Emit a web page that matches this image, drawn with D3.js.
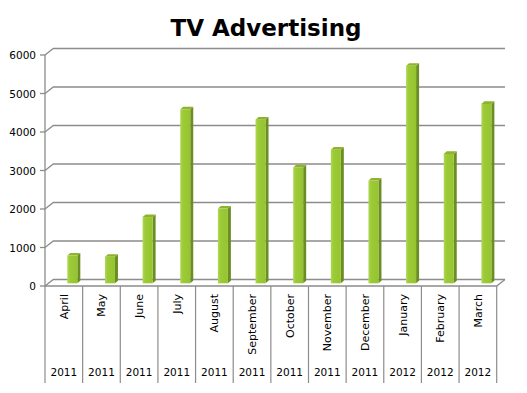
<!DOCTYPE html>
<html><head><meta charset="utf-8">
<script src="https://cdn.jsdelivr.net/npm/d3@7"></script>
<style>body{margin:0;background:#fff}svg{display:block}</style>
</head><body>
<script>
const months = ["April","May","June","July","August","September","October","November","December","January","February","March"];
const years = ["2011","2011","2011","2011","2011","2011","2011","2011","2011","2012","2012","2012"];
const values = [720,690,1720,4520,1940,4250,3010,3470,2670,5650,3360,4660];
const yTicks = [0,1000,2000,3000,4000,5000,6000];
const title = "TV Advertising";

const W = 527, H = 393;
const svg = d3.select("body").append("svg").attr("width", W).attr("height", H);
const font = "DejaVu Sans, Verdana, sans-serif";

const x0 = 45, x1 = 496.7;
const depthX = 8.3, depthY = -6.5;
const x = d3.scaleBand().domain(months.map((m,i)=>i)).range([x0, x1]).padding(0);
const yFront = d3.scaleLinear().domain([0,6000]).range([286, 55]);
const yBack = d3.scaleLinear().domain([0,6000]).range([286+depthY, 55+depthY]);
const yBar = d3.scaleLinear().domain([0,6000]).range([283.3, 283.3-(286-55)]);

const grid = "#8c8c8c";
// gridlines on back wall with slanted left part
const g = svg.append("g");
yTicks.forEach(t => {
  g.append("path")
    .attr("d", `M${x0},${yFront(t)}L${x0+depthX},${yBack(t)}L${x1+depthX},${yBack(t)}`)
    .attr("fill","none").attr("stroke", grid).attr("stroke-width", 1.3);
});
// floor front edge and right slant
g.append("path")
  .attr("d", `M${x0},${yFront(0)}L${x1},${yFront(0)}L${x1+depthX},${yBack(0)}`)
  .attr("fill","none").attr("stroke", grid).attr("stroke-width", 1.3);

// y axis
g.append("line").attr("x1",x0).attr("x2",x0).attr("y1",yFront(6000)).attr("y2",yFront(0))
  .attr("stroke","#8c8c8c").attr("stroke-width",1.3);
yTicks.forEach(t => {
  g.append("line").attr("x1",x0-5).attr("x2",x0).attr("y1",yFront(t)).attr("y2",yFront(t))
    .attr("stroke","#8c8c8c").attr("stroke-width",1.3);
  svg.append("text").attr("x", x0-9).attr("y", yFront(t)+4)
    .attr("text-anchor","end").attr("font-family",font).attr("font-size",10.5)
    .attr("fill","#000").text(t);
});

// category dividers
const bounds = months.map((m,i)=>x(i)).concat([x1]);
bounds.forEach(b => {
  g.append("line").attr("x1",b).attr("x2",b).attr("y1",yFront(0)).attr("y2",383)
    .attr("stroke","#8c8c8c").attr("stroke-width",1.2);
});

// bars
const defs = svg.append("defs");
const gr = defs.append("linearGradient").attr("id","face").attr("x1","0").attr("x2","1");
gr.append("stop").attr("offset","0").attr("stop-color","#b0d855");
gr.append("stop").attr("offset","0.25").attr("stop-color","#9dcb38");
gr.append("stop").attr("offset","1").attr("stop-color","#96c431");

const bw = x.bandwidth();
const fw = 10, sd = 3, sdy = -2.6;
const bars = svg.append("g").selectAll("g").data(values).join("g");
bars.each(function(v,i){
  const sel = d3.select(this);
  const l = x(i) + bw*0.593, r = l + fw;
  const top = yBar(v), bot = yBar(0);
  sel.append("path").attr("d",`M${r},${bot}L${r},${top}L${r+sd},${top+sdy}L${r+sd},${bot+sdy}Z`).attr("fill","#6a8e22");
  sel.append("path").attr("d",`M${l},${top}L${l+sd},${top+sdy}L${r+sd},${top+sdy}L${r},${top}Z`).attr("fill","#8db42c");
  sel.append("rect").attr("x",l).attr("y",top).attr("width",fw).attr("height",bot-top).attr("fill","url(#face)");
});

// month labels (rotated)
months.forEach((m,i) => {
  const cx = x(i) + bw/2 + 4;
  svg.append("text").attr("transform",`translate(${cx},294) rotate(-90)`)
    .attr("text-anchor","end").attr("font-family",font).attr("font-size",11)
    .attr("fill","#000").text(m);
});
// year labels
years.forEach((y,i) => {
  svg.append("text").attr("x", x(i)+bw/2).attr("y", 376)
    .attr("text-anchor","middle").attr("font-family",font).attr("font-size",10.5)
    .attr("fill","#000").text(y);
});

// title
svg.append("text").attr("x", 266).attr("y", 36).attr("text-anchor","middle")
  .attr("font-family",font).attr("font-weight","bold").attr("font-size",23)
  .attr("fill","#000").text(title);
</script>
</body></html>
